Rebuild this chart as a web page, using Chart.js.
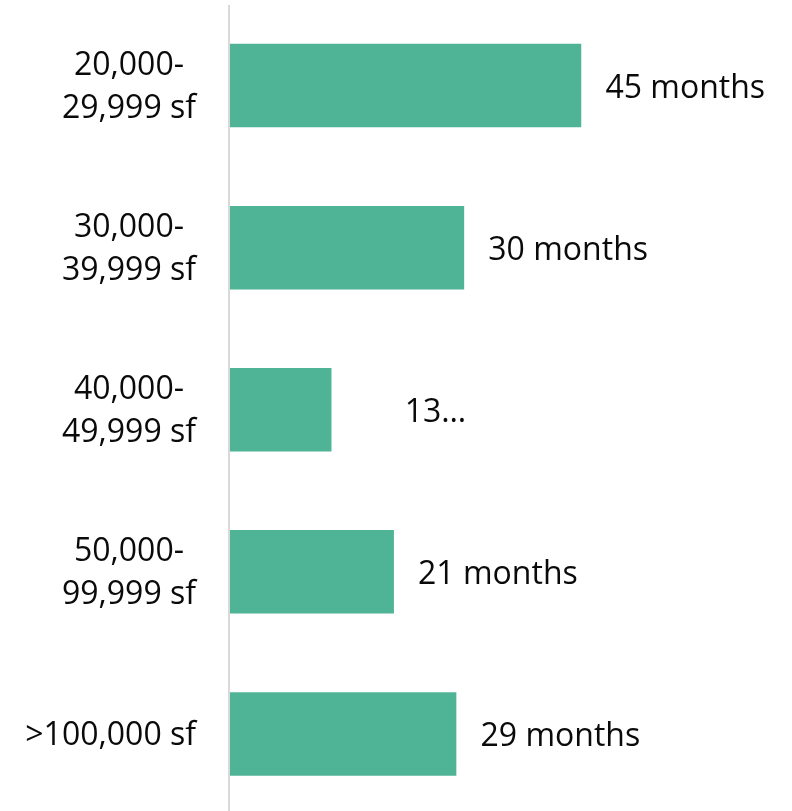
<!DOCTYPE html>
<html>
<head>
<meta charset="utf-8">
<script src="https://cdn.jsdelivr.net/npm/chart.js@4/dist/chart.umd.min.js"></script>
<style>
  html, body { margin: 0; padding: 0; background: #ffffff; overflow: hidden; }
  #wrap { position: relative; width: 792px; height: 815px; }
</style>
</head>
<body>
<div id="wrap"><canvas id="chart"></canvas></div>
<script>
// Average time on market by building size
const categories = [
  ["20,000-", "29,999 sf"],
  ["30,000-", "39,999 sf"],
  ["40,000-", "49,999 sf"],
  ["50,000-", "99,999 sf"],
  [">100,000 sf"]
];
const months = [45, 30, 13, 21, 29];
const valueLabels = ["45 months", "30 months", "13\u2026", "21 months", "29 months"];

const FONT = '"Open Sans", "Noto Sans", sans-serif';
const BAR = '#4fb496';
const TEXT = '#0a0a0a';

// Category names drawn as right-aligned blocks whose lines are centred on each other
const categoryLabels = {
  id: 'categoryLabels',
  afterDraw(chart) {
    const ctx = chart.ctx;
    const y = chart.scales.y;
    const right = chart.chartArea.left - 34;
    const lineH = 43;
    ctx.save();
    ctx.font = '32px ' + FONT;
    ctx.fillStyle = TEXT;
    ctx.textAlign = 'center';
    ctx.textBaseline = 'middle';
    categories.forEach((lines, i) => {
      const cy = y.getPixelForValue(i) + 2;
      const widest = Math.max(...lines.map(l => ctx.measureText(l).width));
      const cx = right - widest / 2;
      const top = cy - (lines.length - 1) * lineH / 2;
      lines.forEach((l, k) => ctx.fillText(l, cx, top + k * lineH));
    });
    ctx.restore();
  }
};

// Value captions placed after the end of each bar
const valueCaptions = {
  id: 'valueCaptions',
  afterDatasetsDraw(chart) {
    const ctx = chart.ctx;
    const meta = chart.getDatasetMeta(0);
    ctx.save();
    ctx.font = '32px ' + FONT;
    ctx.fillStyle = TEXT;
    ctx.textAlign = 'center';
    ctx.textBaseline = 'middle';
    meta.data.forEach((bar, i) => {
      ctx.fillText(valueLabels[i], bar.x + 104, bar.y + 3);
    });
    ctx.restore();
  }
};

// Vertical baseline along the left edge of the plot
const baseline = {
  id: 'baseline',
  beforeDatasetsDraw(chart) {
    const ctx = chart.ctx;
    const x = chart.scales.x.getPixelForValue(0) - 1;
    ctx.save();
    ctx.strokeStyle = '#d9d9d9';
    ctx.lineWidth = 2;
    ctx.beginPath();
    ctx.moveTo(x, 5);
    ctx.lineTo(x, chart.height);
    ctx.stroke();
    ctx.restore();
  }
};

new Chart(document.getElementById('chart'), {
  type: 'bar',
  data: {
    labels: categories,
    datasets: [{
      data: months,
      backgroundColor: BAR,
      borderWidth: 0,
      barPercentage: 0.515,
      categoryPercentage: 1.0
    }]
  },
  options: {
    indexAxis: 'y',
    responsive: true,
    maintainAspectRatio: false,
    animation: false,
    layout: { padding: { top: 4.5, bottom: 0, left: 230, right: 0 } },
    plugins: { legend: { display: false }, tooltip: { enabled: false } },
    scales: {
      x: {
        min: 0, max: 72,
        display: false,
        grid: { display: false }
      },
      y: {
        display: false,
        grid: { display: false }
      }
    }
  },
  plugins: [baseline, valueCaptions, categoryLabels]
});
</script>
</body>
</html>
